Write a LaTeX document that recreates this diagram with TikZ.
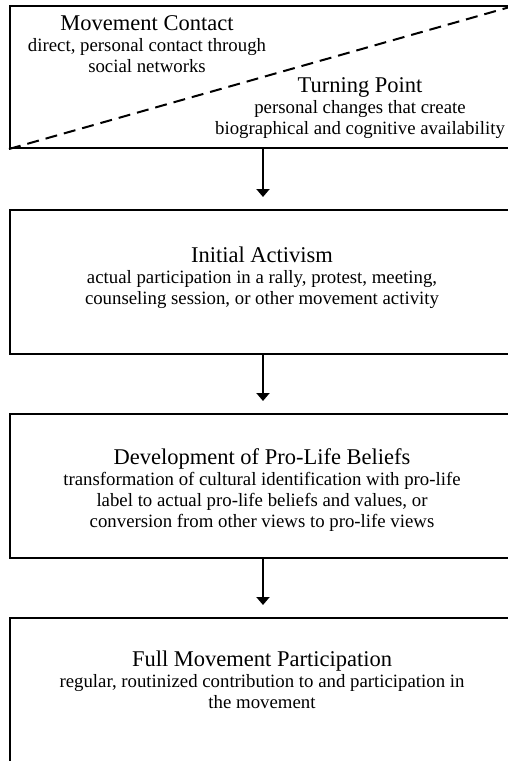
\documentclass[tikz,border=0pt]{standalone}
\usepackage{fontspec}
\setmainfont{Liberation Serif}
\usetikzlibrary{arrows.meta}

\tikzset{
  stage/.style={draw, line width=2pt, minimum width=506pt, minimum height=144pt, anchor=north west, inner sep=0pt},
  blurb/.style={align=center, font=\fontsize{18.8}{21}\selectfont},
  flow/.style={line width=2pt, -{Triangle[length=8pt,width=13pt]}, shorten >=12pt}
}
\newcommand{\stagetitle}[1]{{\fontsize{22.5}{23}\selectfont #1}}

\begin{document}
\begin{tikzpicture}[x=1pt, y=-1pt]
        \useasboundingbox (0,0) rectangle (507,761);

        % Stage boxes
        \node[stage, minimum height=142pt] (contact) at (9,5) {};
        \node[stage] (initial) at (9,209) {};
        \node[stage] (beliefs) at (9,413) {};
        \node[stage, minimum height=160pt] (full) at (9,617) {};

        % Split of the first box
        \draw[line width=2pt, dash pattern=on 12pt off 7pt] (contact.south west) -- (contact.north east);

        % Texts
        \node[blurb] (contacttxt) at (147,44) {\stagetitle{Movement Contact}\\ direct, personal contact through\\ social networks};
        \node[blurb] (turningtxt) at (360,108) {\stagetitle{Turning Point}\\ personal changes that create\\ biographical and cognitive availability};
        \node[blurb] (initialtxt) at (262,278) {\stagetitle{Initial Activism}\\ actual participation in a rally, protest, meeting,\\ counseling session, or other movement activity};
        \node[blurb] (beliefstxt) at (262,490) {\stagetitle{Development of Pro-Life Beliefs}\\ transformation of cultural identification with pro-life\\ label to actual pro-life beliefs and values, or\\ conversion from other views to pro-life views};
        \node[blurb] (fulltxt) at (262,680) {\stagetitle{Full Movement Participation}\\ regular, routinized contribution to and participation in\\ the movement};

        % Arrows
        \draw[flow] (contact) -- (initial);
        \draw[flow] (initial) -- (beliefs);
        \draw[flow] (beliefs) -- (full);
\end{tikzpicture}
\end{document}
